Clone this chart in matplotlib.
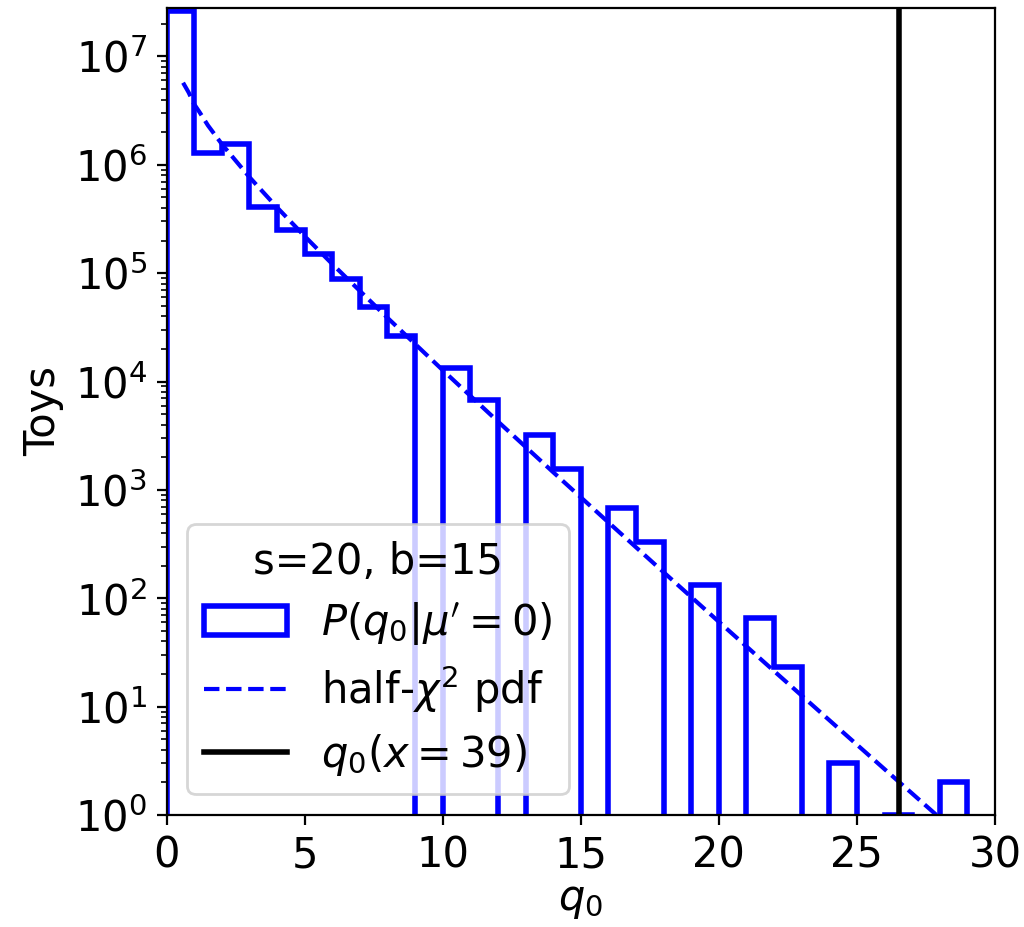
import numpy as np
import matplotlib
matplotlib.use("Agg")
from matplotlib import pyplot as plt

plt.rcParams['font.size'] = 15

#histogram of toy q0 values, bins of width 1 from 0 to 30
bin_edges = list(range(0, 31))
toy_counts = [2.6e7, 1.29e6, 1.56e6, 4.08e5, 2.52e5, 1.51e5, 8.8e4, 4.87e4, 2.61e4, 0,
              1.33e4, 6.8e3, 0, 3.2e3, 1.57e3, 0, 679, 334, 0, 132,
              0, 66, 23, 0, 3, 0, 1, 0, 2, 0]

#half-chi2 pdf curve
pdf_q0 = [0.6, 0.8, 1.0, 1.2, 1.5, 2, 3, 4, 5, 6, 8, 10, 12, 14, 16, 18, 20, 22, 24, 26, 28]
pdf_toys = [5.72e6, 4.66e6, 3.63e6, 3.05e6, 2.31e6, 1.557e6, 7.71e5, 4.05e5, 2.197e5, 1.216e5,
            3.875e4, 1.275e4, 4.28e3, 1.458e3, 502, 174, 60.7, 21.3, 7.5, 2.65, 0.94]

#observed q0 for x=39
q0_obs = 26.53

fig = plt.figure(figsize=(5.12, 4.635), dpi=200)
ax = fig.add_axes([0.1626, 0.1208, 0.8091, 0.8706])

bin_centres = np.array(bin_edges[:-1]) + 0.5
ax.hist(bin_centres, bins=bin_edges, weights=toy_counts, histtype='step',
        color='blue', lw=2, log=True, label=r"$P(q_0|\mu'=0)$")
ax.plot(pdf_q0, pdf_toys, '--', color='blue', lw=1.5, label=r'half-$\chi^2$ pdf')
ax.axvline(q0_obs, color='black', lw=2, label=r'$q_0(x=39)$')

ax.set_xlim(0, 30)
ax.set_ylim(1, 2.8e7)
ax.set_xlabel(r'$q_0$', labelpad=1)
ax.set_ylabel('Toys')
ax.legend(loc='lower left', title='s=20, b=15', title_fontsize=15, labelspacing=0.4)

fig.savefig('out.png', dpi=200)
